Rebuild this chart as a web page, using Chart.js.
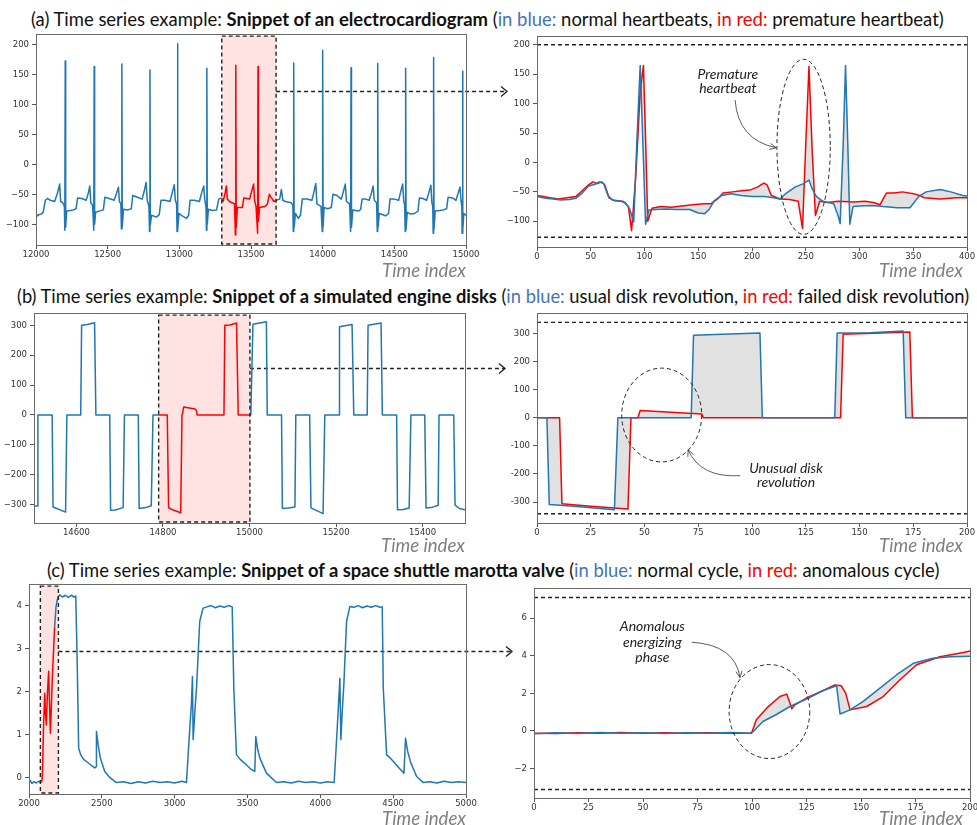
<!DOCTYPE html>
<html>
<head>
<meta charset="utf-8">
<script src="https://cdn.jsdelivr.net/npm/chart.js@4.4.1/dist/chart.umd.min.js"></script>
<style>
  body { margin: 0; width: 977px; height: 825px; position: relative; background: #fff; overflow: hidden; font-family: Lato, 'Open Sans', sans-serif; }
  canvas { position: absolute; }
  .title { position: absolute; white-space: nowrap; color: #111; font-size: 17px; line-height: 20px; }
  .title b { font-weight: 700; }
  .blue { color: #4472c4; }
  .red { color: #ff0000; }
  .tix { position: absolute; white-space: nowrap; font-style: italic; color: #7f7f7f; font-size: 21px; line-height: 20px; }
  svg { position: absolute; left: 0; top: 0; pointer-events: none; }
</style>
</head>
<body>
<div class="title" id="t1">(a) Time series example: <b>Snippet of an electrocardiogram</b> (<span class="blue">in blue:</span> normal heartbeats, <span class="red">in red:</span> premature heartbeat)</div>
<div class="title" id="t2">(b) Time series example: <b>Snippet of a simulated engine disks</b> (<span class="blue">in blue:</span> usual disk revolution, <span class="red">in red:</span> failed disk revolution)</div>
<div class="title" id="t3">(c) Time series example: <b>Snippet of a space shuttle marotta valve</b> (<span class="blue">in blue:</span> normal cycle, <span class="red">in red:</span> anomalous cycle)</div>
<svg id="links" width="977" height="825"></svg>
<script>
// ---------- tick labels ----------
const ecgTimeTicks = [12000, 12500, 13000, 13500, 14000, 14500, 15000];
const ecgValueTicks = [-100, -50, 0, 50, 100, 150, 200];
const beatTicks = [0, 50, 100, 150, 200, 250, 300, 350, 400];
const diskTimeTicks = [14600, 14800, 15000, 15200, 15400];
const diskValueTicks = [-300, -200, -100, 0, 100, 200, 300];
const revTicks = [0, 25, 50, 75, 100, 125, 150, 175, 200];
const valveTimeTicks = [2000, 2500, 3000, 3500, 4000, 4500, 5000];
const valveValueTicks = [0, 1, 2, 3, 4];
const cycleTicks = [0, 25, 50, 75, 100, 125, 150, 175, 200];
const cycleValueTicks = [-2, 0, 2, 4, 6];

// ---------- data: (a) electrocardiogram ----------
const ecgBlueBefore = [
  [12000,-82],[12010,-86],[12020,-84],[12035,-83],[12050,-80],[12065,-60],[12080,-57],[12100,-60],[12130,-62],[12150,-48],[12165,-33],[12172,-62],[12186,-64],
  [12198,-70],[12201,-110],[12204,172],[12207,-105],[12214,-78],[12240,-77],[12260,-76],[12280,-74],[12290,-56],[12320,-57],[12350,-60],[12365,-48],[12375,-36],[12383,-65],[12395,-68],
  [12403,-110],[12406,163],[12409,-100],[12416,-80],[12440,-78],[12470,-76],[12480,-55],[12510,-57],[12545,-60],[12560,-50],[12575,-38],[12582,-62],[12592,-66],
  [12596,-108],[12599,167],[12602,-105],[12610,-75],[12640,-76],[12665,-74],[12675,-52],[12700,-54],[12740,-58],[12755,-45],[12768,-30],[12776,-60],[12788,-70],
  [12792,-112],[12795,157],[12798,-100],[12806,-85],[12840,-88],[12860,-84],[12872,-60],[12900,-60],[12935,-62],[12950,-48],[12965,-34],[12972,-60],[12981,-66],
  [12984,-112],[12987,201],[12990,-108],[12998,-82],[13020,-86],[13050,-90],[13065,-85],[13075,-60],[13105,-60],[13140,-62],[13155,-48],[13170,-36],[13177,-58],[13186,-72],
  [13189,-110],[13192,160],[13195,-100],[13203,-75],[13230,-77],[13260,-76],[13275,-58],[13296,-56]
];
const ecgRed = [
  [13296,-56],[13305,-62],[13318,-50],[13328,-36],[13335,-58],[13350,-62],[13385,-66],[13391,-118],[13394,165],[13397,-105],[13405,-72],
  [13440,-72],[13450,-56],[13490,-58],[13505,-45],[13518,-33],[13525,-60],[13535,-70],[13546,-115],[13549,163],[13552,-95],[13560,-72],
  [13600,-70],[13615,-66],[13628,-50],[13640,-55],[13660,-62],[13675,-60]
];
const ecgBlueAfter = [
  [13675,-60],[13700,-58],[13712,-42],[13722,-60],[13740,-62],[13780,-64],[13792,-68],[13795,-112],[13798,169],[13801,-105],[13810,-82],[13830,-90],[13845,-85],[13858,-58],[13890,-58],[13925,-60],[13940,-45],[13952,-32],[13960,-66],[13988,-70],
  [13997,-112],[14000,190],[14003,-105],[14010,-72],[14035,-74],[14060,-72],[14072,-50],[14100,-52],[14130,-58],[14145,-45],[14158,-33],[14166,-62],[14188,-66],
  [14195,-112],[14198,161],[14201,-105],[14210,-76],[14250,-78],[14265,-75],[14275,-58],[14300,-58],[14325,-60],[14340,-48],[14352,-36],[14360,-60],[14376,-64],
  [14381,-112],[14384,168],[14387,-105],[14395,-82],[14420,-84],[14440,-86],[14460,-82],[14470,-58],[14500,-58],[14530,-60],[14545,-45],[14558,-33],[14566,-62],[14572,-68],
  [14576,-112],[14579,160],[14582,-108],[14590,-80],[14615,-83],[14640,-82],[14665,-78],[14675,-56],[14700,-57],[14725,-60],[14740,-48],[14755,-35],[14762,-64],[14768,-70],
  [14771,-115],[14774,178],[14777,-108],[14785,-78],[14815,-77],[14840,-76],[14865,-74],[14875,-55],[14905,-56],[14930,-60],[14945,-48],[14958,-38],[14966,-62],[14971,-70],
  [14973,-115],[14976,155],[14979,-108],[14985,-82],[15000,-85]
];
const beatNormal = [
  [0,-58],[8,-61],[15,-62],[22,-64],[30,-63],[36,-61],[42,-52],[48,-40],[54,-37],[58,-33],[62,-36],[66,-56],[70,-64],[76,-65],[82,-68],[86,-78],
  [90,-101],[93,40],[96,165],[98,60],[101,-105],[104,-81],[110,-80],[120,-79],[130,-80],[142,-80],[150,-86],[156,-87],[160,-80],[165,-65],[172,-56],
  [180,-53],[190,-56],[200,-58],[212,-58],[220,-60],[226,-62],[232,-52],[240,-42],[248,-36],[253,-30],[256,-45],[260,-58],[266,-66],[276,-70],
  [280,-90],[282,-104],[285,40],[287,165],[289,40],[291,-105],[294,-75],[300,-74],[312,-73],[322,-75],[335,-77],[347,-77],[355,-58],[362,-50],
  [375,-46],[385,-50],[396,-56],[400,-57]
];
const beatPremature = [
  [0,-56],[6,-58],[12,-60],[20,-62],[28,-60],[36,-58],[42,-48],[48,-38],[52,-33],[56,-36],[60,-33],[63,-38],[67,-60],[72,-65],[80,-66],[85,-75],
  [88,-116],[92,-20],[96,120],[99,165],[101,40],[103,-100],[107,-78],[115,-75],[125,-76],[135,-74],[145,-72],[155,-70],[162,-70],[168,-62],[173,-52],
  [182,-50],[190,-48],[198,-47],[205,-42],[211,-35],[214,-38],[218,-56],[226,-62],[235,-63],[243,-66],[247,-112],[250,30],[253,163],[256,20],
  [259,-90],[263,-66],[270,-68],[280,-66],[295,-67],[305,-66],[313,-68],[319,-72],[325,-52],[332,-52],[340,-50],[350,-53],[356,-56],[360,-60],
  [375,-62],[390,-60],[400,-60]
];

// ---------- data: (b) engine disks ----------
const diskBlueBefore = [
  [14502,-305],[14509,-305],[14511,0],[14544,0],[14546,-308],[14575,-325],[14578,0],[14610,0],[14612,300],[14625,303],[14642,309],[14645,0],
  [14677,0],[14679,-319],[14690,-318],[14708,-310],[14711,0],[14743,0],[14745,-313],[14760,-310],[14773,-304],[14777,0],[14790,0]
];
const diskRed = [
  [14790,0],[14810,0],[14813,-311],[14825,-319],[14841,-327],[14844,0],[14845,3],[14848,27],[14874,20],[14877,16],[14879,0],
  [14941,0],[14943,300],[14955,301],[14970,308],[14974,0],[15001,0]
];
const diskBlueAfter = [
  [15001,0],[15003,0],[15008,304],[15039,312],[15041,0],[15074,0],[15076,-313],[15090,-311],[15105,-308],[15107,0],[15139,0],[15142,-311],
  [15170,-330],[15174,0],[15207,0],[15208,295],[15237,303],[15241,0],[15272,0],[15274,300],[15304,308],[15307,0],[15340,0],[15342,-317],
  [15355,-316],[15369,-311],[15373,0],[15405,0],[15408,-311],[15420,-310],[15436,-302],[15438,0],[15472,0],[15475,-302],[15485,-313],[15498,-317]
];
const revUsual = [
  [0,0],[4.6,0],[5.7,-309],[17,-315],[36,-327],[37.6,0],[71.7,0],[72.8,294],[86,298],[103.7,302],[104.8,0],
  [138.5,0],[139.6,302],[155,303],[170.3,309],[171.5,0],[200,0]
];
const revFailed = [
  [0,0],[10.5,0],[11.6,-306],[25,-315],[42.3,-325],[43.7,0],[46.9,0],[48,26],[76.6,14],[77.4,0],
  [141.2,0],[142.4,298],[160,302],[173.4,306],[174.6,0],[200,0]
];

// ---------- data: (c) marotta valve ----------
const valveBlueBefore = [
  [2000,-0.12],[2010,-0.08],[2020,-0.14],[2035,-0.1],[2050,-0.13],[2065,-0.09],[2080,-0.12],[2088,-0.1]
];
const valveRed = [
  [2088,-0.1],[2092,0.06],[2100,1.2],[2108,1.96],[2113,1.5],[2119,1.22],[2127,2.0],[2135,2.47],[2141,1.7],[2147,1.03],[2160,2.3],[2176,3.51]
];
const valveBlueAfter = [
  [2176,3.51],[2185,3.95],[2192,4.1],[2200,4.2],[2211,4.25],[2230,4.2],[2250,4.24],[2270,4.19],[2290,4.24],[2310,4.2],[2321,4.22],
  [2330,2.85],[2341,0.68],[2355,0.53],[2375,0.42],[2394,0.37],[2420,0.3],[2451,0.22],[2460,0.25],[2463,1.07],[2475,0.75],[2490,0.45],
  [2520,0.14],[2554,0.0],[2600,-0.12],[2650,-0.1],[2700,-0.14],[2750,-0.1],[2800,-0.13],[2850,-0.09],[2900,-0.12],[2950,-0.1],[3000,-0.13],
  [3050,-0.09],[3081,-0.12],[3104,1.15],[3115,1.7],[3122,2.35],[3127,0.88],[3140,1.6],[3150,2.08],[3172,3.63],[3195,3.94],[3220,3.97],
  [3250,4.0],[3280,3.95],[3310,3.99],[3340,3.96],[3370,4.0],[3395,3.97],[3406,2.08],[3424,0.53],[3450,0.42],[3490,0.3],[3520,0.2],
  [3550,0.14],[3557,0.95],[3570,0.65],[3585,0.45],[3630,0.1],[3699,-0.12],[3750,-0.1],[3800,-0.13],[3850,-0.09],[3900,-0.12],[3950,-0.1],
  [4000,-0.13],[4050,-0.1],[4095,-0.12],[4116,1.15],[4128,1.9],[4134,2.31],[4141,0.88],[4150,1.5],[4162,2.2],[4180,3.63],[4203,3.98],
  [4230,3.96],[4260,4.0],[4290,3.95],[4320,3.99],[4350,3.96],[4380,4.0],[4410,3.96],[4425,3.97],[4432,2.08],[4455,0.53],[4480,0.45],
  [4512,0.33],[4545,0.2],[4574,0.1],[4585,0.91],[4600,0.6],[4620,0.35],[4661,0.02],[4707,-0.12],[4750,-0.1],[4800,-0.13],[4850,-0.09],
  [4900,-0.12],[4950,-0.1],[5000,-0.12]
];
const cycleNormal = [
  [0,-0.15],[10,-0.1],[20,-0.14],[30,-0.08],[40,-0.13],[50,-0.1],[60,-0.14],[70,-0.1],[80,-0.12],[90,-0.09],[99,-0.12],[100.6,-0.03],
  [105,0.5],[111,0.86],[117.4,1.3],[125,1.7],[132.7,2.15],[138.8,2.4],[140.4,0.9],[145,1.12],[151,1.57],[158.7,2.28],[166.4,2.99],
  [174,3.6],[183,3.87],[190.8,3.95],[200,3.98]
];
const cycleAnomalous = [
  [0,-0.12],[10,-0.14],[20,-0.1],[30,-0.13],[40,-0.09],[50,-0.13],[60,-0.1],[70,-0.13],[80,-0.1],[90,-0.12],[99.8,-0.12],[102,0.6],
  [106.7,1.21],[112.8,1.83],[115.9,1.96],[117.4,1.48],[118.2,1.18],[119.7,1.39],[125,1.75],[132.7,2.15],[138,2.45],[141,2.4],[143,2.0],
  [145,1.12],[152.6,1.3],[160.2,1.83],[167.9,2.72],[175.5,3.52],[186.2,3.95],[197,4.17],[200,4.26]
];

const BLUE = '#1f77b4', RED = '#ff0000';

// decorations: highlight band, threshold lines, ellipse, notes, curved arrow, frame
const deco = {
  id: 'deco',
  beforeDatasetsDraw(chart, args, o) {
    if (!o.band) return;
    const { ctx, chartArea: r, scales: { x } } = chart;
    const x0 = x.getPixelForValue(o.band[0]), x1 = x.getPixelForValue(o.band[1]);
    ctx.save();
    ctx.fillStyle = 'rgba(255,70,70,0.15)';
    ctx.fillRect(x0, r.top + 2, x1 - x0, r.bottom - r.top - 3);
    ctx.restore();
  },
  afterDatasetsDraw(chart, args, o) {
    const { ctx, chartArea: r, scales: { x, y } } = chart;
    ctx.save();
    ctx.strokeStyle = '#222';
    ctx.lineWidth = 1.4;
    ctx.setLineDash([4, 3]);
    if (o.band) {
      const x0 = x.getPixelForValue(o.band[0]), x1 = x.getPixelForValue(o.band[1]);
      ctx.strokeRect(x0, r.top + 2, x1 - x0, r.bottom - r.top - 3);
    }
    (o.hlines || []).forEach(v => {
      const py = y.getPixelForValue(v);
      ctx.beginPath(); ctx.moveTo(r.left, py); ctx.lineTo(r.right, py); ctx.stroke();
    });
    if (o.ellipse) {
      const e = o.ellipse;
      const cx = x.getPixelForValue(e.x), cy = y.getPixelForValue(e.y);
      const rx = Math.abs(x.getPixelForValue(e.x + e.rx) - cx), ry = Math.abs(y.getPixelForValue(e.y + e.ry) - cy);
      ctx.lineWidth = 1;
      ctx.beginPath(); ctx.ellipse(cx, cy, rx, ry, 0, 0, Math.PI * 2); ctx.stroke();
    }
    ctx.setLineDash([]);
    if (o.notes) {
      ctx.fillStyle = '#222';
      ctx.font = 'italic 14px Lato, "Open Sans", sans-serif';
      ctx.textAlign = 'center';
      ctx.textBaseline = 'middle';
      o.notes.forEach(n => ctx.fillText(n.text, x.getPixelForValue(n.x), y.getPixelForValue(n.y)));
    }
    if (o.arrow) {
      const p = o.arrow.map(q => [x.getPixelForValue(q[0]), y.getPixelForValue(q[1])]);
      ctx.strokeStyle = '#333';
      ctx.lineWidth = 0.8;
      ctx.beginPath(); ctx.moveTo(p[0][0], p[0][1]); ctx.quadraticCurveTo(p[1][0], p[1][1], p[2][0], p[2][1]); ctx.stroke();
      const ang = Math.atan2(p[2][1] - p[1][1], p[2][0] - p[1][0]);
      ctx.beginPath();
      ctx.moveTo(p[2][0] - 7 * Math.cos(ang - 0.45), p[2][1] - 7 * Math.sin(ang - 0.45));
      ctx.lineTo(p[2][0], p[2][1]);
      ctx.lineTo(p[2][0] - 7 * Math.cos(ang + 0.45), p[2][1] - 7 * Math.sin(ang + 0.45));
      ctx.stroke();
    }
    ctx.restore();
  },
  afterDraw(chart) {
    const { ctx, chartArea: r } = chart;
    ctx.save();
    ctx.strokeStyle = '#6a6a6a';
    ctx.lineWidth = 1;
    ctx.strokeRect(Math.round(r.left) + 0.5, Math.round(r.top) + 0.5, Math.round(r.right - r.left), Math.round(r.bottom - r.top));
    ctx.restore();
  }
};
Chart.register(deco);

const minusFmt = v => String(v).replace('-', '\u2212');
const hyphenFmt = v => String(v);

function line(data, color, extra) {
  return Object.assign({ data, borderColor: color, borderWidth: 1.5, pointRadius: 0, fill: false }, extra || {});
}

function makeChart(box, xr, yr, xticks, yticks, datasets, decoOpts, fmt) {
  const [l, t, r, b] = box;
  const W = Math.min(40, l), PT = 8, PR = 20, XH = 20;
  const cv = document.createElement('canvas');
  cv.width = r - l + W + PR;
  cv.height = b - t + PT + XH;
  cv.style.left = (l - W) + 'px';
  cv.style.top = (t - PT) + 'px';
  document.body.appendChild(cv);
  const tickFont = { family: '"DejaVu Sans", sans-serif', size: 8.5 };
  const grid = { display: true, drawOnChartArea: false, drawTicks: true, tickLength: 4, color: '#555' };
  const chart = new Chart(cv, {
    type: 'line',
    data: { datasets },
    options: {
      responsive: false,
      animation: false,
      events: [],
      layout: { padding: { left: 0, top: PT, right: PR, bottom: 0 } },
      plugins: {
        legend: { display: false },
        tooltip: { enabled: false },
        filler: { drawTime: 'beforeDatasetsDraw' },
        deco: decoOpts
      },
      elements: { line: { tension: 0, borderJoinStyle: 'round' } },
      scales: {
        x: {
          type: 'linear', min: xr[0], max: xr[1],
          afterBuildTicks(s) { s.ticks = xticks.map(v => ({ value: v })); },
          afterFit(s) { s.height = XH; },
          grid, border: { display: false },
          ticks: { autoSkip: false, maxRotation: 0, padding: 1, color: '#333', font: tickFont, callback: v => v }
        },
        y: {
          type: 'linear', min: yr[0], max: yr[1],
          afterBuildTicks(s) { s.ticks = yticks.map(v => ({ value: v })); },
          afterFit(s) { s.width = W; },
          grid, border: { display: false },
          ticks: { autoSkip: false, padding: 3, color: '#333', font: tickFont, callback: fmt || minusFmt }
        }
      }
    }
  });
  chart.$box = { left: l - W, top: t - PT };
  return chart;
}

// ---------- row (a) ----------
const a1 = makeChart([36, 34, 466, 245], [12000, 15000], [-134.5, 217], ecgTimeTicks, ecgValueTicks, [
  line(ecgBlueBefore, BLUE), line(ecgRed, RED), line(ecgBlueAfter, BLUE)
], { band: [13296, 13675] });
const a2 = makeChart([537, 36, 967, 247], [0, 400], [-143.7, 214.8], beatTicks, ecgValueTicks, [
  line(beatNormal, BLUE, { fill: { target: 1 }, backgroundColor: 'rgba(195,195,195,0.5)' }),
  line(beatPremature, RED)
], {
  hlines: [200, -127],
  ellipse: { x: 248, y: 26.5, rx: 24.8, ry: 148.8 },
  notes: [{ text: 'Premature', x: 177.5, y: 150 }, { text: 'heartbeat', x: 177.5, y: 125 }],
  arrow: [[184.3, 106], [187, 38.5], [222.5, 25]]
});

// ---------- row (b) ----------
const b1 = makeChart([34, 313, 465, 523], [14502, 15498], [-361.5, 341], diskTimeTicks, diskValueTicks, [
  line(diskBlueBefore, BLUE), line(diskRed, RED), line(diskBlueAfter, BLUE)
], { band: [14790, 15001] });
const b2 = makeChart([537, 313, 967, 523], [0, 200], [-374.5, 373], revTicks, diskValueTicks, [
  line(revUsual, BLUE, { fill: { target: 1 }, backgroundColor: 'rgba(195,195,195,0.5)' }),
  line(revFailed, RED)
], {
  hlines: [340, -341.5],
  ellipse: { x: 58, y: 10, rx: 18.6, ry: 167 },
  notes: [{ text: 'Unusual disk', x: 115.8, y: -182 }, { text: 'revolution', x: 115.8, y: -231 }],
  arrow: [[94.5, -206], [75.9, -214], [70.3, -114]]
}, hyphenFmt);

// ---------- row (c) ----------
const c1 = makeChart([29, 584, 466, 794], [2000, 5000], [-0.386, 4.5], valveTimeTicks, valveValueTicks, [
  line(valveBlueBefore, BLUE), line(valveRed, RED), line(valveBlueAfter, BLUE)
], { band: [2078, 2202] });
const c2 = makeChart([534, 588, 970, 798], [0, 200], [-3.57, 7.6], cycleTicks, cycleValueTicks, [
  line(cycleNormal, BLUE, { fill: { target: 1 }, backgroundColor: 'rgba(195,195,195,0.5)' }),
  line(cycleAnomalous, RED)
], {
  hlines: [7.1, -3.12],
  ellipse: { x: 108, y: 1.03, rx: 18.5, ry: 2.5 },
  notes: [{ text: 'Anomalous', x: 54.3, y: 5.55 }, { text: 'energizing', x: 54.3, y: 4.72 }, { text: 'phase', x: 54.3, y: 3.9 }],
  arrow: [[72.3, 4.72], [92.2, 4.58], [94.5, 2.84]]
});

// ---------- dashed links from each highlighted band to its zoom ----------
const svg = document.getElementById('links');
function link(src, bandEnd, yVal, dst, gap) {
  const x0 = src.$box.left + src.scales.x.getPixelForValue(bandEnd);
  const yy = Math.round(src.$box.top + src.scales.y.getPixelForValue(yVal)) + 0.5;
  const x1 = dst.$box.left + dst.chartArea.left - gap;
  svg.insertAdjacentHTML('beforeend',
    `<line x1="${x0}" y1="${yy}" x2="${x1}" y2="${yy}" stroke="#222" stroke-width="1.3" stroke-dasharray="4,3"/>` +
    `<polyline points="${x1 - 6},${yy - 5} ${x1},${yy} ${x1 - 6},${yy + 5}" fill="none" stroke="#222" stroke-width="1.3"/>`);
}
link(a1, 13675, 122, a2, 30);
link(b1, 15001, 158.5, b2, 32);
link(c1, 2202, 2.95, c2, 22);

// ---------- titles and axis captions ----------
function fit(el, left, width, centerY) {
  const w = el.getBoundingClientRect().width;
  const fs = 17 * width / w;
  el.style.fontSize = fs.toFixed(2) + 'px';
  el.style.left = left + 'px';
  el.style.top = (centerY - 10) + 'px';
}
fit(document.getElementById('t1'), 31, 913, 19);
fit(document.getElementById('t2'), 17, 953, 296);
fit(document.getElementById('t3'), 47, 893, 570);

[[466, 270], [963, 270], [465, 545], [963, 545], [466, 818], [963, 818]].forEach(([right, cy]) => {
  const d = document.createElement('div');
  d.className = 'tix';
  d.textContent = 'Time index';
  document.body.appendChild(d);
  const w = d.getBoundingClientRect().width;
  d.style.fontSize = (21 * 84 / w).toFixed(2) + 'px';
  const w2 = d.getBoundingClientRect().width;
  d.style.left = (right - w2) + 'px';
  d.style.top = (cy - 10) + 'px';
});
</script>
</body>
</html>
